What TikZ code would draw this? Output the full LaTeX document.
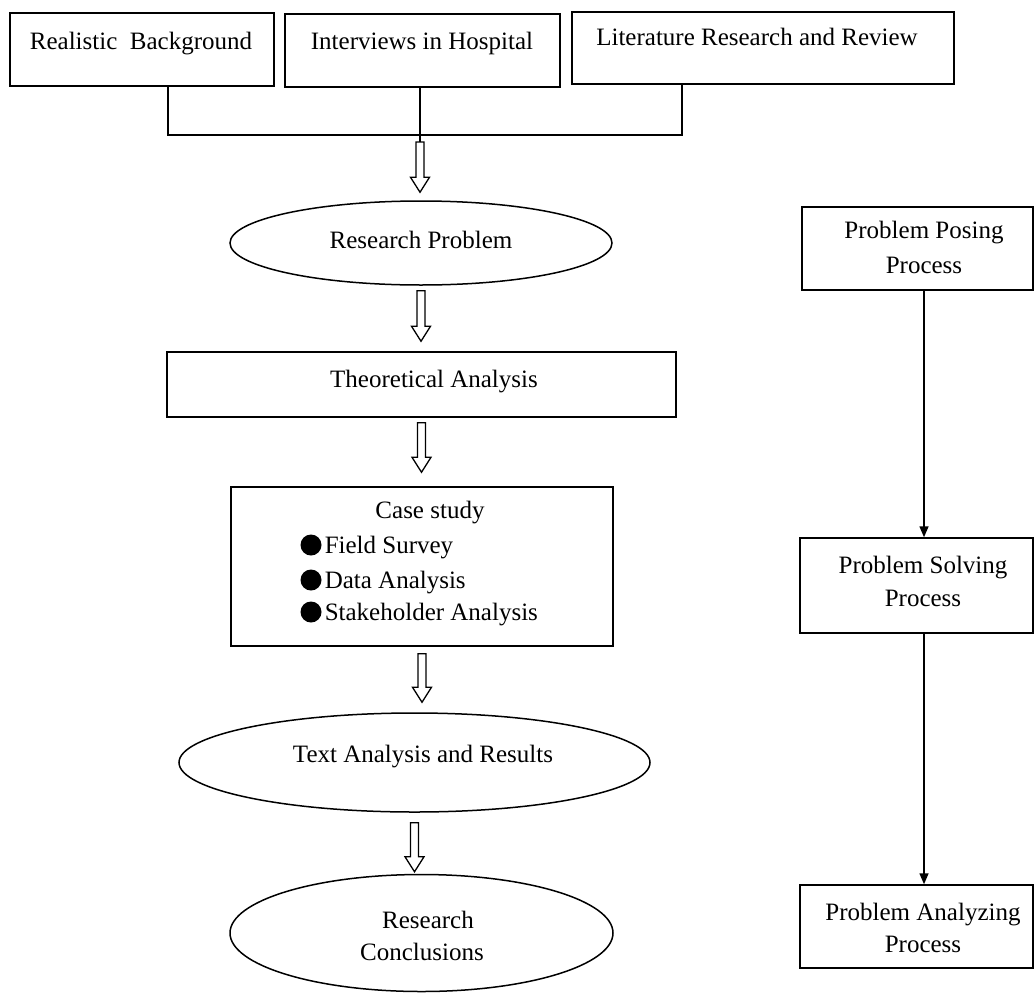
\documentclass[tikz,border=0pt]{standalone}
\usepackage{fontspec}
\setmainfont{Liberation Serif}
\usetikzlibrary{shapes.geometric,arrows.meta,calc}

% hollow block arrow pointing down: #1 start, #2 target, #3 gap below start, #4 gap above target
\newcommand\hollowdown[4]{%
  \draw[hollow] let \p1=(#1), \p2=(#2) in
    (\x1-4pt,\y1-#3pt) -- (\x1+4pt,\y1-#3pt) -- (\x1+4pt,\y2+#4pt+15pt)
    -- (\x1+9.5pt,\y2+#4pt+15pt) -- (\x1,\y2+#4pt)
    -- (\x1-9.5pt,\y2+#4pt+15pt) -- (\x1-4pt,\y2+#4pt+15pt) -- cycle;
}

\begin{document}
\begin{tikzpicture}[x=1pt,y=-1pt,
  line width=1.5pt,
  frame/.style={draw, rectangle, inner sep=0pt},
  oval/.style={draw, ellipse, inner sep=0pt},
  lbl/.style={font=\fontsize{25}{30}\selectfont, inner sep=0pt, anchor=base},
  dot/.style={circle, fill, inner sep=0pt, minimum size=21pt},
  hollow/.style={draw, fill=white, line width=1.3pt, line join=miter},
  flow/.style={-{Triangle[length=11pt,width=9pt]}, line width=1.5pt},
]
\useasboundingbox (0,0) rectangle (1035,993);

% source boxes
\node[frame, minimum width=264pt, minimum height=73pt] (b1) at (142,49.5) {};
\node[frame, minimum width=275pt, minimum height=73pt] (b2) at (422.5,50.5) {};
\node[frame, minimum width=382pt, minimum height=72pt] (b3) at (763,48) {};
\node[lbl] (t1) at (141,49) {Realistic\ \ Background};
\node[lbl] (t2) at (422,49) {Interviews in Hospital};
\node[lbl] (t3) at (757,45) {Literature Research and Review};

% junction bar
\coordinate (j1) at (168,135);
\coordinate (j3) at (682,135);
\coordinate (jn) at (420,142);
\draw (j1 |- b1.south) -- (j1) -- (j3) -- (j3 |- b3.south);
\draw (jn |- b2.south) -- (jn);

% main flow
\node[oval, minimum width=382pt, minimum height=84pt] (rp) at (421,243) {};
\node[lbl] (trp) at (421,248) {Research Problem};

\node[frame, minimum width=509pt, minimum height=65pt] (ta) at (421.5,384.5) {};
\node[lbl] (tta) at (434,387) {Theoretical Analysis};

\node[frame, minimum width=382pt, minimum height=159pt] (cs) at (422,566.5) {};
\node[lbl] (tcs) at (430,518) {Case study};
\node[dot] (d1) at (311,545) {};
\node[dot] (d2) at (311,580) {};
\node[dot] (d3) at (311,612) {};
\node[lbl, anchor=base west] (i1) at (324,553) {Field Survey};
\node[lbl, anchor=base west] (i2) at (324,588) {Data Analysis};
\node[lbl, anchor=base west] (i3) at (324,620) {Stakeholder Analysis};

\node[oval, minimum width=471pt, minimum height=99pt] (tar) at (414.5,762.5) {};
\node[lbl] (ttar) at (423,762) {Text Analysis and Results};

\node[oval, minimum width=383pt, minimum height=117pt] (rc) at (421.5,933) {};
\node[lbl] (trc1) at (428,928) {Research};
\node[lbl] (trc2) at (422,960) {Conclusions};

\hollowdown{jn}{rp.north}{0}{8}
\hollowdown{rp.south}{ta.north}{5}{10}
\hollowdown{ta.south}{cs.north}{5}{14}
\hollowdown{cs.south}{tar.north}{7}{10}
\hollowdown{tar.south}{rc.north}{10}{2}

% process column
\coordinate (px) at (924,0);
\node[frame, minimum width=231pt, minimum height=83pt] (pp) at (917.5,248.5) {};
\node[lbl] (tpp1) at (924,238) {Problem Posing};
\node[lbl] (tpp2) at (924,273) {Process};

\node[frame, minimum width=233pt, minimum height=95pt] (ps) at (916.5,585.5) {};
\node[lbl] (tps1) at (923,573) {Problem Solving};
\node[lbl] (tps2) at (923,606) {Process};

\node[frame, minimum width=233pt, minimum height=83pt] (pa) at (916.5,926.5) {};
\node[lbl] (tpa1) at (923,920) {Problem Analyzing};
\node[lbl] (tpa2) at (923,952) {Process};

\draw[flow] (px |- pp.south) -- (px |- ps.north);
\draw[flow] (px |- ps.south) -- (px |- pa.north);
\end{tikzpicture}
\end{document}
